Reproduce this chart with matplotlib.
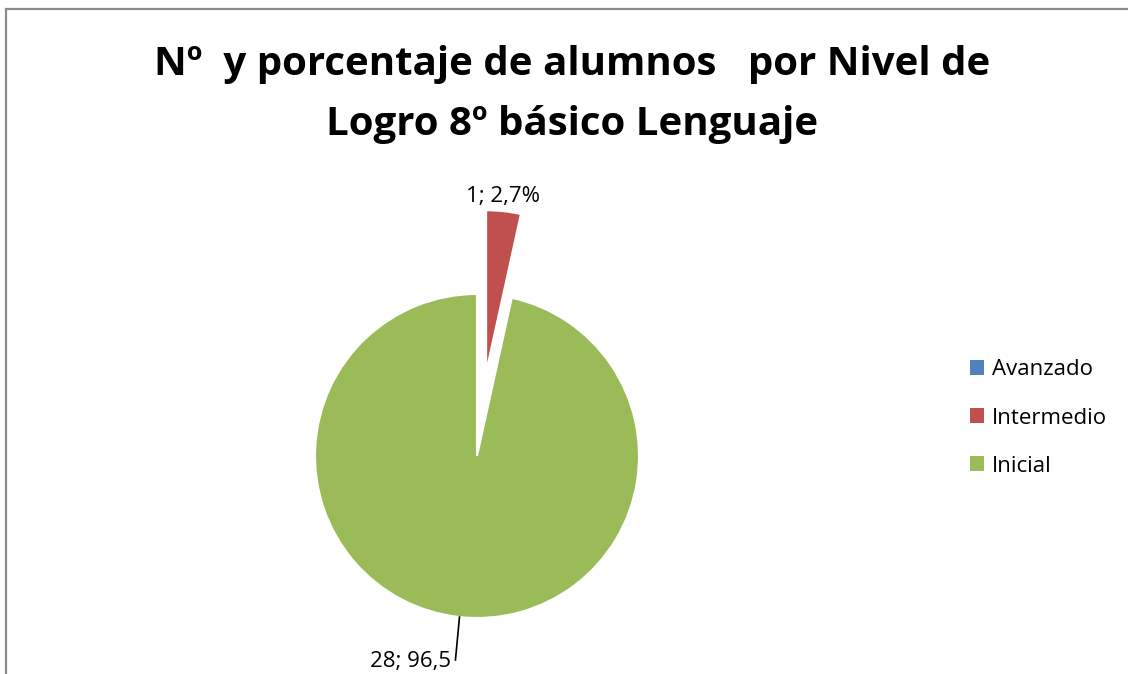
import numpy as np
import matplotlib.pyplot as plt
from matplotlib.patches import Rectangle

plt.rcParams['font.family'] = ['Open Sans', 'DejaVu Sans']

niveles = ['Avanzado', 'Intermedio', 'Inicial']
alumnos = [0, 1, 28]
etiquetas = ['', '1; 2,7%', '28; 96,5']
colores = ['#4F81BD', '#C0504D', '#9BBB59']
separacion = [0, 0.52, 0]

W, H = 1128, 674
fig = plt.figure(figsize=(W / 100, H / 100), dpi=100)

# marco del grafico (cortado a la derecha y abajo)
fig.patches.append(Rectangle((5.5 / W, -0.05), 1.2, (H - 9) / H + 0.05,
                             transform=fig.transFigure, fill=False,
                             edgecolor='#8c8c8c', linewidth=1.6))

fig.text(572 / W, 1 - 64 / H, 'Nº  y porcentaje de alumnos   por Nivel de',
         ha='center', va='center', fontsize=29, fontweight='bold')
fig.text(572 / W, 1 - 124 / H, 'Logro 8º básico Lenguaje',
         ha='center', va='center', fontsize=29, fontweight='bold')

# pie: centro (477, 456) px, radio 162 px
lim = 1.8
side = 162 * 2 * lim
cx, cy = 477, H - 456
ax = fig.add_axes([(cx - side / 2) / W, (cy - side / 2) / H, side / W, side / H])
wedges, _ = ax.pie(alumnos, colors=colores, explode=separacion, startangle=90,
                   counterclock=False, radius=1,
                   wedgeprops=dict(edgecolor='white', linewidth=1.5))
ax.set_xlim(-lim, lim)
ax.set_ylim(-lim, lim)
ax.set_aspect('equal')
ax.axis('off')

# etiqueta Intermedio (encima de la porcion separada)
w = wedges[1]
ang = np.deg2rad((w.theta1 + w.theta2) / 2 + 0.5)
ax.text(1.61 * np.cos(ang), 1.61 * np.sin(ang), etiquetas[1],
        ha='center', va='center', fontsize=16)

# etiqueta Inicial con linea guia
w = wedges[2]
ang = np.deg2rad((w.theta1 + w.theta2) / 2)
x0, y0 = np.cos(ang), np.sin(ang)
x1, y1 = x0 - 0.025, y0 - 0.265
ax.plot([x0, x1], [y0, y1], color='black', linewidth=1.2, clip_on=False)
ax.text(x1 - 0.03, y1 - 0.01, etiquetas[2], ha='right', va='center', fontsize=16)

handles = [Rectangle((0, 0), 1, 1, facecolor=c) for c in colores]
fig.legend(handles, niveles, loc='center left', bbox_to_anchor=(950 / W, 1 - 418 / H),
           frameon=False, fontsize=16, handlelength=0.65, handleheight=0.65,
           handletextpad=0.35, labelspacing=1.22)

fig.savefig('out.png', dpi=100)
